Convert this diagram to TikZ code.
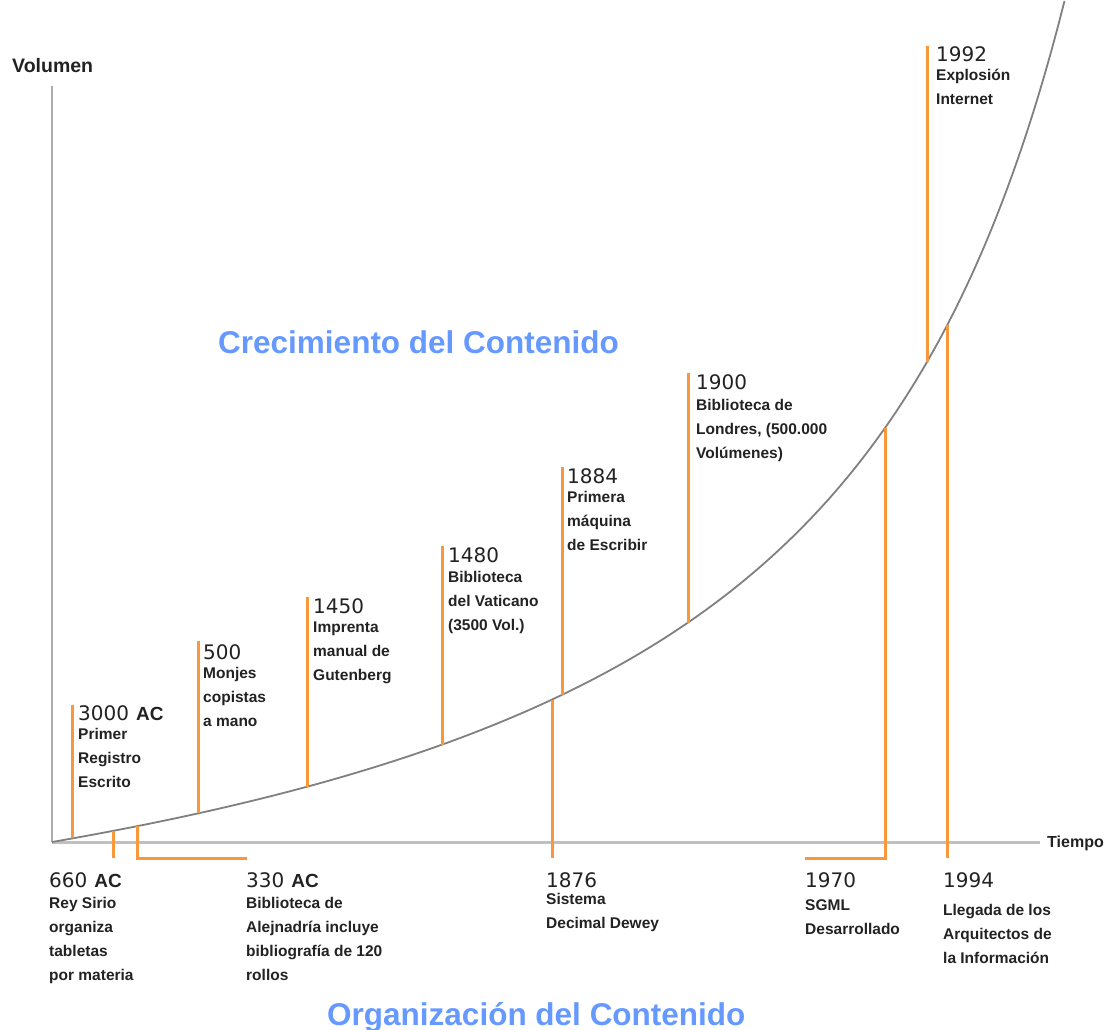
\documentclass[tikz,border=0pt]{standalone}
\usepackage{fontspec}
\setmainfont{Liberation Sans}
\newfontfamily\digitfont{DejaVu Sans}
\definecolor{hito}{RGB}{248,152,58}
\definecolor{eje}{RGB}{192,192,192}
\definecolor{curva}{RGB}{128,128,128}
\definecolor{titulo}{RGB}{102,153,255}
\definecolor{texto}{RGB}{34,34,34}
\newcommand{\desctext}[1]{\begin{tabular}[t]{@{}l@{}}#1\end{tabular}}
\newcommand{\ac}{\hspace{0.35em}\normalfont\bfseries\fontsize{19}{20}\selectfont AC}
\begin{document}
\begin{tikzpicture}[x=1pt,y=-1pt,
	declare function={vol(\x)=842-222.2*((\x-52)/(1332-\x));},
	hitoline/.style={draw=hito,line width=3pt},
	yearlabel/.style={anchor=base west,inner sep=0pt,text=texto,font=\digitfont\fontsize{20}{20}\selectfont},
	desclabel/.style={anchor=base west,inner sep=0pt,text=texto,font=\bfseries\fontsize{15.5}{24}\selectfont},
	titlelabel/.style={anchor=base west,inner sep=0pt,text=titulo,font=\bfseries\fontsize{31.5}{32}\selectfont},
	axislabel/.style={anchor=base west,inner sep=0pt,text=texto,font=\bfseries}]
	\useasboundingbox (0,0) rectangle (1109,1030);
	\pgfmathsetmacro{\yAxis}{842};
	\pgfmathsetmacro{\yLow}{858};
%
	% axes
	\coordinate (origin) at (52,\yAxis);
	\coordinate (ytop) at (52,86);
	\coordinate (xend) at (1040,\yAxis);
	\draw[eje!90!black,line width=2pt] (ytop) -- (origin);
	\draw[eje,line width=3pt] (origin) -- (xend);
	\node[axislabel,font=\bfseries\fontsize{19.5}{20}\selectfont] (volumen) at (12,73) {Volumen};
	\node[axislabel,font=\bfseries\fontsize{16}{16}\selectfont] (tiempo) at (1047,847) {Tiempo};
%
	% curve
	\draw[curva,line width=1.8pt] plot[domain=52:1064.5,samples=150,smooth] (\x,{vol(\x)});
%
	% upper marks
	\begin{scope}
		\coordinate (c3000) at (72,{vol(72)});
		\coordinate (t3000) at (72,705);
		\draw[hitoline] (t3000) -- (c3000);
		\node[yearlabel] (y3000) at (78,720) {3000\ac};
		\node[desclabel] (d3000) at (78,739) {\desctext{Primer\\Registro\\Escrito}};
	\end{scope}
	\begin{scope}
		\coordinate (c500) at (198,{vol(198)});
		\coordinate (t500) at (198,641);
		\draw[hitoline] (t500) -- (c500);
		\node[yearlabel] (y500) at (203,659) {500};
		\node[desclabel] (d500) at (203,678) {\desctext{Monjes\\copistas\\a mano}};
	\end{scope}
	\begin{scope}
		\coordinate (c1450) at (307,{vol(307)});
		\coordinate (t1450) at (307,597);
		\draw[hitoline] (t1450) -- (c1450);
		\node[yearlabel] (y1450) at (313,613) {1450};
		\node[desclabel] (d1450) at (313,632) {\desctext{Imprenta\\manual de\\Gutenberg}};
	\end{scope}
	\begin{scope}
		\coordinate (c1480) at (442,{vol(442)});
		\coordinate (t1480) at (442,546);
		\draw[hitoline] (t1480) -- (c1480);
		\node[yearlabel] (y1480) at (448,562) {1480};
		\node[desclabel] (d1480) at (448,582) {\desctext{Biblioteca\\del Vaticano\\(3500 Vol.)}};
	\end{scope}
	\begin{scope}
		\coordinate (c1884) at (562,{vol(562)});
		\coordinate (t1884) at (562,467);
		\draw[hitoline] (t1884) -- (c1884);
		\node[yearlabel] (y1884) at (567,483) {1884};
		\node[desclabel] (d1884) at (567,502) {\desctext{Primera\\máquina\\de Escribir}};
	\end{scope}
	\begin{scope}
		\coordinate (c1900) at (688,{vol(688)});
		\coordinate (t1900) at (688,373);
		\draw[hitoline] (t1900) -- (c1900);
		\node[yearlabel] (y1900) at (696,389) {1900};
		\node[desclabel] (d1900) at (696,410) {\desctext{Biblioteca de\\Londres, (500.000\\Volúmenes)}};
	\end{scope}
	\begin{scope}
		\coordinate (c1992) at (927,{vol(927)});
		\coordinate (t1992) at (927,46);
		\draw[hitoline] (t1992) -- (c1992);
		\node[yearlabel] (y1992) at (936,62) {1992};
		\node[desclabel] (d1992) at (936,81) {\desctext{Explosión\\Internet}};
	\end{scope}
%
	% lower marks
	\begin{scope}
		\coordinate (c660) at (113,{vol(113)});
		\coordinate (b660) at (113,\yLow);
		\draw[hitoline] (c660) -- (b660);
		\node[yearlabel] (y660) at (49,887) {660\ac};
		\node[desclabel] (d660) at (49,908) {\desctext{Rey Sirio\\organiza\\tabletas\\por materia}};
	\end{scope}
	\begin{scope}
		\coordinate (c330) at (137,{vol(137)});
		\coordinate (b330) at (137,\yLow);
		\coordinate (e330) at (247,\yLow);
		\draw[hitoline] (c330) -- (b330) -- (e330);
		\node[yearlabel] (y330) at (246,887) {330\ac};
		\node[desclabel] (d330) at (246,908) {\desctext{Biblioteca de\\Alejnadría incluye\\bibliografía de 120\\rollos}};
	\end{scope}
	\begin{scope}
		\coordinate (c1876) at (552,{vol(552)});
		\coordinate (b1876) at (552,\yLow);
		\draw[hitoline] (c1876) -- (b1876);
		\node[yearlabel] (y1876) at (546,887) {1876};
		\node[desclabel] (d1876) at (546,904) {\desctext{Sistema\\Decimal Dewey}};
	\end{scope}
	\begin{scope}
		\coordinate (c1970) at (885,{vol(885)});
		\coordinate (b1970) at (885,\yLow);
		\coordinate (e1970) at (805,\yLow);
		\draw[hitoline] (c1970) -- (b1970) -- (e1970);
		\node[yearlabel] (y1970) at (805,887) {1970};
		\node[desclabel] (d1970) at (805,910) {\desctext{SGML\\Desarrollado}};
	\end{scope}
	\begin{scope}
		\coordinate (c1994) at (947,{vol(947)});
		\coordinate (b1994) at (947,\yLow);
		\draw[hitoline] (c1994) -- (b1994);
		\node[yearlabel] (y1994) at (943,887) {1994};
		\node[desclabel] (d1994) at (943,915) {\desctext{Llegada de los\\Arquitectos de\\la Información}};
	\end{scope}
%
	% titles
	\node[titlelabel] (crecimiento) at (218,353) {Crecimiento del Contenido};
	\node[titlelabel] (organizacion) at (327,1025) {Organización del Contenido};
\end{tikzpicture}
\end{document}
